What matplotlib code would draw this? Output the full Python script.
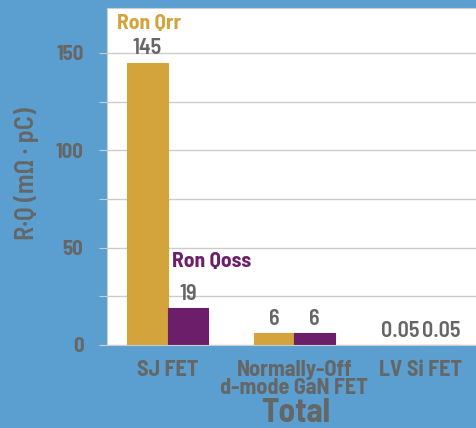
import matplotlib.pyplot as plt
import numpy as np

# data
categories = ['SJ FET', 'Normally-Off\nd-mode GaN FET', 'LV Si FET']
ron_qrr = [145, 6, 0.05]
ron_qoss = [19, 6, 0.05]
qrr_labels = ['145', '6', '0.05']
qoss_labels = ['19', '6', '0.05']

plt.rcParams['font.family'] = ['Barlow Semi Condensed', 'DejaVu Sans']

bg = '#5a9fcf'
gold = '#d2a43b'
purple = '#6c1e6b'
grey = '#666666'

fig = plt.figure(figsize=(4.77, 4.28), dpi=100, facecolor=bg)
ax = fig.add_axes([0.2243, 0.194, 0.79, 0.787])

x = np.arange(len(categories))
w = 0.32
b1 = ax.bar(x - w / 2, ron_qrr, w, color=gold, edgecolor=gold, linewidth=0.8)
b2 = ax.bar(x + w / 2, ron_qoss, w, color=purple, edgecolor=purple, linewidth=0.8)

for bars, labels in [(b1, qrr_labels), (b2, qoss_labels)]:
    for rect, lab in zip(bars, labels):
        ax.annotate(lab, (rect.get_x() + rect.get_width() / 2, rect.get_height()),
                    xytext=(0, 3), textcoords='offset points', ha='center', va='bottom',
                    fontsize=16, fontweight='semibold', color=grey)

ax.text(-w / 2 + 0.01, 165, 'Ron Qrr', color=gold, fontsize=15.5, fontweight='bold',
        ha='center', va='center')
ax.text(w / 2 + 0.19, 43, 'Ron Qoss', color=purple, fontsize=15.5, fontweight='bold',
        ha='center', va='center')

ax.set_xlim(-0.48, 2.5)
ax.set_ylim(0, 173)
ax.set_yticks(np.arange(0, 151, 25))
ax.set_yticklabels(['0', '', '50', '', '100', '', '150'])
ax.set_xticks(x)
ax.set_xticklabels(categories, fontsize=16, fontweight='bold', color=grey, linespacing=0.85)
ax.tick_params(axis='y', length=6, color='#cccccc', labelsize=15, labelcolor=grey, pad=11)
for t in ax.get_yticklabels():
    t.set_fontweight('bold')
ax.tick_params(axis='x', length=0, pad=11)
ax.grid(axis='y', color='#cccccc', linewidth=1)
ax.set_axisbelow(True)
for s in ax.spines.values():
    s.set_color('#cccccc')
ax.spines['right'].set_visible(False)

ax.set_ylabel('R·Q (mΩ · pC)', fontsize=19, color=grey, fontweight='semibold')
ax.yaxis.set_label_coords(-0.18, 0.51)
ax.set_xlabel('Total', fontsize=24, color=grey, fontweight='bold', labelpad=0)

fig.savefig('out.png', dpi=100, facecolor=bg)
